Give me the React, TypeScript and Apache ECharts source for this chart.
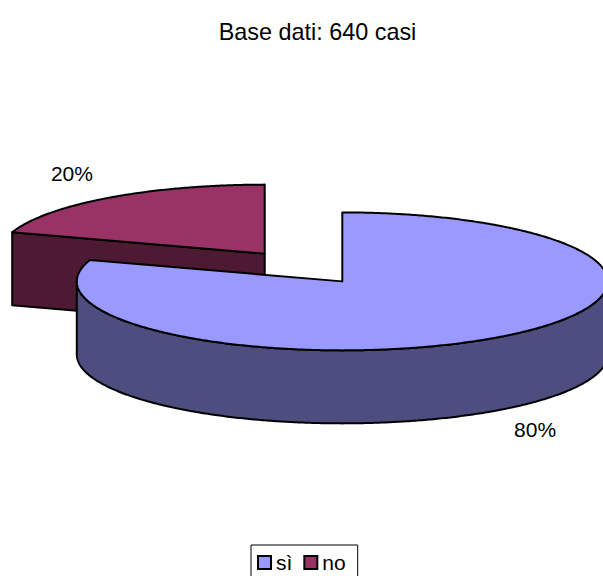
import React, { useEffect, useRef } from "react";
import * as echarts from "echarts";

const sliceNames = ["sì", "no"];
const sliceValues = [80, 20];
const topColors = ["#9999FF", "#993366"];
const sideColors = ["#4D4D80", "#4D1933"];
const titleText = "Base dati: 640 casi";

const FONT = '21px "Liberation Sans", Arial, sans-serif';
const PIE = { cx: 303.5, cy: 267.5, rx: 265.5, ry: 69, depth: 73, explode: 66 };
const LABEL = { radiusX: 328, radiusY: 99 };
const EDGE = { stroke: "#000", lineWidth: 2, lineJoin: "round" as const };

const total = sliceValues.reduce((a, b) => a + b, 0);

// Clockwise angle from twelve o'clock where a slice begins.
function startAngle(index: number) {
  let sum = 0;
  for (let i = 0; i < index; i++) sum += sliceValues[i];
  return (sum / total) * 2 * Math.PI;
}

function rimPoints(cx: number, cy: number, from: number, to: number) {
  const pts: number[][] = [];
  const steps = Math.max(2, Math.ceil(((to - from) * 180) / Math.PI / 0.5));
  for (let i = 0; i <= steps; i++) {
    const a = from + ((to - from) * i) / steps;
    pts.push([cx + PIE.rx * Math.sin(a), cy - PIE.ry * Math.cos(a)]);
  }
  return pts;
}

// Draws one exploded slice as a tilted disc sector: cut faces, outer wall, lid and label.
function renderSlice(index: number, value: number) {
  const from = startAngle(index);
  const to = from + (value / total) * 2 * Math.PI;
  const mid = (from + to) / 2;
  const cx = PIE.cx + PIE.explode * Math.sin(mid);
  const cy = PIE.cy - (PIE.explode * Math.cos(mid) * PIE.ry) / PIE.rx;
  const d = PIE.depth;
  const side = { fill: sideColors[index], ...EDGE };
  const children: any[] = [];

  const cutFace = (a: number) => {
    const [p] = rimPoints(cx, cy, a, a);
    children.push({
      type: "polygon",
      shape: { points: [[cx, cy], p, [p[0], p[1] + d], [cx, cy + d]] },
      style: side,
    });
  };
  if (Math.sin(from) < -1e-6) cutFace(from);
  if (Math.sin(to) > 1e-6) cutFace(to);

  // Only the part of the rim in the lower half of the ellipse shows a wall.
  const wallFrom = Math.max(from, Math.PI / 2);
  const wallTo = Math.min(to, (3 * Math.PI) / 2);
  if (wallTo > wallFrom) {
    const upper = rimPoints(cx, cy, wallFrom, wallTo);
    const lower = upper.map(([x, y]) => [x, y + d]).reverse();
    children.push({ type: "polygon", shape: { points: [...upper, ...lower] }, style: side });
  }

  children.push({
    type: "polygon",
    shape: { points: [[cx, cy], ...rimPoints(cx, cy, from, to)] },
    style: { fill: topColors[index], ...EDGE },
  });

  const cos = Math.cos(mid);
  children.push({
    type: "text",
    style: {
      text: `${Math.round((value / total) * 100)}%`,
      x: cx + LABEL.radiusX * Math.sin(mid),
      y: cy - LABEL.radiusY * cos + (cos < 0 ? d - 5 : 0),
      fill: "#000",
      font: FONT,
      textAlign: "center",
      textVerticalAlign: "middle",
    },
  });
  return { type: "group", children };
}

export default function App() {
  const ref = useRef<HTMLDivElement>(null);
  useEffect(() => {
    const chart = echarts.init(ref.current!, null, { renderer: "svg" });
    chart.setOption({
      animation: false,
      backgroundColor: "#fff",
      title: {
        text: titleText,
        left: 312.5,
        top: 15,
        textAlign: "center",
        textStyle: {
          fontFamily: '"Liberation Sans", Arial, sans-serif',
          fontSize: 23.4,
          fontWeight: "normal",
          color: "#000",
        },
      },
      legend: {
        left: 251,
        top: 545,
        orient: "horizontal",
        icon: "rect",
        itemWidth: 13,
        itemHeight: 13,
        itemGap: 11,
        padding: [7, 12, 5, 6],
        borderColor: "#000",
        borderWidth: 1,
        selectedMode: false,
        data: sliceNames.map((name, i) => ({
          name,
          itemStyle: { color: topColors[i], borderColor: "#000", borderWidth: 2 },
        })),
        textStyle: {
          fontFamily: '"Liberation Sans", Arial, sans-serif',
          fontSize: 21,
          color: "#000",
        },
      },
      series: sliceNames.map((name, i) => ({
        type: "custom",
        name,
        coordinateSystem: "none",
        z: sliceNames.length - i === 1 ? 1 : 2,
        itemStyle: { color: topColors[i] },
        data: [sliceValues[i]],
        renderItem: (_params: any, api: any) => renderSlice(i, api.value(0)),
      })),
    });
    return () => chart.dispose();
  }, []);
  return (
    <div
      ref={ref}
      style={{ position: "fixed", left: 0, top: 0, width: 603, height: 576, overflow: "hidden" }}
    />
  );
}
